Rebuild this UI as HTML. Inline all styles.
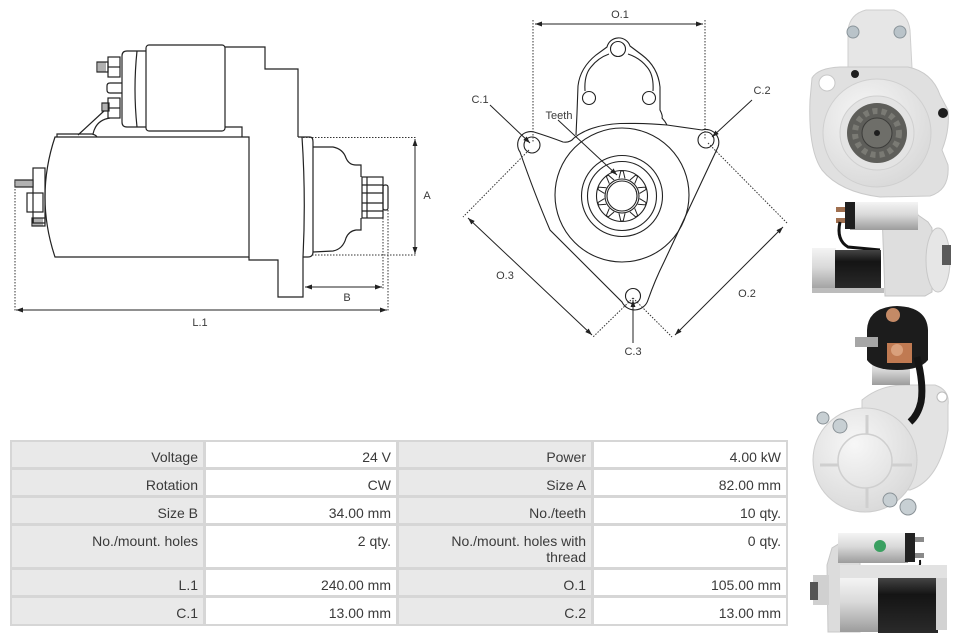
<!DOCTYPE html>
<html><head><meta charset="utf-8">
<style>
html,body{margin:0;padding:0;background:#fff;}
body{width:960px;height:636px;position:relative;overflow:hidden;font-family:"Liberation Sans",sans-serif;}
svg{position:absolute;left:0;top:0;}
.tb{position:absolute;left:10px;top:440px;width:778px;height:186px;background:#d6d6d6;}
.c{position:absolute;box-sizing:border-box;text-align:right;font:14px/16px "Liberation Sans",sans-serif;color:#3a3a3a;padding:7px 5px 0 0;white-space:nowrap;}
.l{background:#e9e9e9;}
.v{background:#fff;}
.k1{left:2px;width:191px;}
.k2{left:196px;width:190px;}
.k3{left:389px;width:192px;}
.k4{left:584px;width:192px;}
.r1{top:2px;height:25px;}
.r2{top:30px;height:25px;}
.r3{top:58px;height:25px;}
.r4{top:86px;height:41px;}
.r5{top:130px;height:25px;}
.r6{top:158px;height:26px;}
</style></head>
<body>
<svg width="960" height="636" viewBox="0 0 960 636" xmlns="http://www.w3.org/2000/svg">
<defs>
<marker id="ah" viewBox="0 0 10 10" refX="10" refY="5" markerWidth="7" markerHeight="7" orient="auto-start-reverse">
<path d="M0,1.5 L10,5 L0,8.5 z" fill="#222"/></marker>
<linearGradient id="cyl" x1="0" y1="0" x2="0" y2="1">
<stop offset="0" stop-color="#f4f4f4"/><stop offset=".45" stop-color="#d9d9d9"/><stop offset="1" stop-color="#9c9c9c"/></linearGradient>
<linearGradient id="blk" x1="0" y1="0" x2="0" y2="1">
<stop offset="0" stop-color="#444"/><stop offset=".3" stop-color="#141414"/><stop offset="1" stop-color="#2a2a2a"/></linearGradient>
<radialGradient id="disc" cx=".4" cy=".35" r=".75">
<stop offset="0" stop-color="#f7f7f7"/><stop offset="1" stop-color="#d6d6d6"/></radialGradient>
</defs>

<!-- ============ LEFT SIDE VIEW DRAWING ============ -->
<g fill="none" stroke="#222" stroke-width="1.2">
<path d="M55,137 L249,137 L249,257 L55,257 Q35,197 55,137 Z"/>
<path d="M57,137 L57,134 L92,134 Q96,135 97,137"/>
<rect x="146" y="45" width="79" height="86" rx="3"/>
<path d="M146,51 L127,51 Q122,51 122,56 L122,122 Q122,127 127,127 L146,127"/>
<path d="M137,51 Q133,89 137,127"/>
<path d="M225,127 L242,127 L242,137"/>
<path d="M225,47 L265,47 L265,69 L298,69 L298,137"/>
<path d="M298,137 L310,137 Q313,137 313,142 L313,252 Q313,257 308,257 L303,257"/>
<path d="M302,137 Q306,197 303,257"/>
<path d="M249,257 L249,260 L278,260 L278,297 L303,297 L303,257"/>
<path d="M313,147 L333,147 Q343,149 346,158 Q349,165 356,165 L361,165 L361,177"/>
<path d="M361,218 L361,230 L356,230 Q349,231 346,238 Q343,249 333,251 L313,252"/>
<rect x="362" y="177" width="21" height="41"/>
<path d="M362,185 L383,185 M362,193 L383,193 M362,203 L383,203 M362,211 L383,211 M367,177 L367,218"/>
<rect x="383" y="185" width="5" height="25" rx="2"/>
<!-- left terminals -->
<rect x="33" y="168" width="12" height="55"/>
<rect x="27" y="193" width="16" height="19"/>
<rect x="15" y="180" width="18" height="7"/>
<path d="M17,180 v7 M19,180 v7 M21,180 v7 M23,180 v7 M25,180 v7 M27,180 v7 M29,180 v7 M31,180 v7" stroke-width=".7"/>
<rect x="32" y="218" width="13" height="8"/>
<path d="M34,218 v8 M36,218 v8 M38,218 v8 M40,218 v8 M42,218 v8" stroke-width=".7"/>
<!-- solenoid terminals -->
<rect x="97" y="62" width="11" height="10"/>
<path d="M99,62 v10 M101,62 v10 M103,62 v10 M105,62 v10" stroke-width=".7"/>
<rect x="108" y="57" width="12" height="20"/>
<path d="M108,67 L120,67"/>
<path d="M122,83 L110,83 Q107,83 107,86 L107,90 Q107,93 110,93 L122,93"/>
<rect x="102" y="103" width="7" height="8"/>
<path d="M104,103 v8 M106,103 v8" stroke-width=".7"/>
<rect x="108" y="98" width="12" height="20"/>
<path d="M108,108 L120,108"/>
<path d="M104,111 L78,135"/>
<path d="M110,118 Q96,120 93,134"/>
</g>
<!-- dimension lines left -->
<g fill="none" stroke="#333" stroke-width="1" stroke-dasharray="1.5 1.5">
<path d="M303,137.5 L417,137.5"/>
<path d="M312,255 L417,255"/>
<path d="M383,218 L383,289"/>
<path d="M15,180 L15,312"/>
<path d="M388,210 L388,312"/>
</g>
<g fill="none" stroke="#222" stroke-width="1">
<path d="M415,139 L415,254" marker-start="url(#ah)" marker-end="url(#ah)"/>
<path d="M305,287 L382,287" marker-start="url(#ah)" marker-end="url(#ah)"/>
<path d="M16,310 L387,310" marker-start="url(#ah)" marker-end="url(#ah)"/>
</g>
<g font-family="Liberation Sans, sans-serif" font-size="11" fill="#3a3a3a" text-anchor="middle">
<text x="427" y="199">A</text>
<text x="347" y="301">B</text>
<text x="200" y="326">L.1</text>
</g>

<!-- ============ MIDDLE FRONT VIEW DRAWING ============ -->
<g fill="none" stroke="#222" stroke-width="1.1">
<path d="M520,152 A13,13 0 0 1 534,132 Q550,137 563,142 Q570,143 574,138 Q590,125 620,123.5 Q645,123 667,125 L702,130 A13,13 0 0 1 718,147 L664,262 Q655,280 648,300 A14,14 0 0 1 622,302 L550,230 Q535,195 520,152 Z"/>
<path d="M576,135 L577,113 L578,86 Q580,68 596,55 L607,47 A12,12 0 0 1 630,46 L642,55 Q658,67 660,87 L660,110 Q663,116 662,118 Q665,121 667,125"/>
<path d="M585,91 Q584,75 591,67 Q598,58 609,54"/>
<path d="M628,54 Q640,58 647,67 Q654,75 653,91"/>
<circle cx="618" cy="49" r="7.5"/>
<circle cx="589" cy="98" r="6.5"/>
<circle cx="649" cy="98" r="6.5"/>
<circle cx="532" cy="145" r="8"/>
<circle cx="706" cy="140" r="8"/>
<circle cx="633" cy="296" r="7.5"/>
<circle cx="622" cy="195" r="67"/>
<circle cx="622" cy="196" r="40.5"/>
<circle cx="622" cy="196" r="34.5"/>
<circle cx="622" cy="196" r="25.5"/>
<circle cx="622" cy="196" r="17"/>
<circle cx="622" cy="196" r="15"/>
<g transform="translate(622,196)" stroke-width="1">
<path id="tooth" d="M-3,-17.5 L-1.2,-25 L1.2,-25 L3,-17.5"/>
<use href="#tooth" transform="rotate(36)"/>
<use href="#tooth" transform="rotate(72)"/>
<use href="#tooth" transform="rotate(108)"/>
<use href="#tooth" transform="rotate(144)"/>
<use href="#tooth" transform="rotate(180)"/>
<use href="#tooth" transform="rotate(216)"/>
<use href="#tooth" transform="rotate(252)"/>
<use href="#tooth" transform="rotate(288)"/>
<use href="#tooth" transform="rotate(324)"/>
</g>
</g>
<g fill="none" stroke="#333" stroke-width="1" stroke-dasharray="1.5 1.5">
<path d="M533,20 L533,143"/>
<path d="M705,20 L705,140"/>
<path d="M529,150 L463,217"/>
<path d="M633,298 L593,337"/>
<path d="M708,143 L787,223"/>
<path d="M633,298 L672,337"/>
</g>
<g fill="none" stroke="#222" stroke-width="1">
<path d="M535,24 L703,24" marker-start="url(#ah)" marker-end="url(#ah)"/>
<path d="M468,218 L592,335" marker-start="url(#ah)" marker-end="url(#ah)"/>
<path d="M783,227 L675,335" marker-start="url(#ah)" marker-end="url(#ah)"/>
<path d="M558,120 L617,175" marker-end="url(#ah)"/>
<path d="M490,105 L530,143" marker-end="url(#ah)"/>
<path d="M752,100 L712,137" marker-end="url(#ah)"/>
<path d="M633,343 L633,300" marker-end="url(#ah)"/>
</g>
<g font-family="Liberation Sans, sans-serif" font-size="11" fill="#3a3a3a" text-anchor="middle">
<text x="620" y="18">O.1</text>
<text x="559" y="119">Teeth</text>
<text x="480" y="103">C.1</text>
<text x="762" y="94">C.2</text>
<text x="633" y="355">C.3</text>
<text x="505" y="279">O.3</text>
<text x="747" y="297">O.2</text>
</g>

<!-- ============ PHOTOS (approximated) ============ -->
<!-- photo 1 -->
<path d="M848,68 L848,30 Q850,14 866,10 L894,10 Q908,14 910,30 L912,68 Z" fill="#e6e6e6" stroke="#cfcfcf"/>
<circle cx="853" cy="32" r="6" fill="#b9c3c9" stroke="#8a949a"/>
<circle cx="900" cy="32" r="6" fill="#b9c3c9" stroke="#8a949a"/>
<path d="M812,78 Q818,68 840,67 L908,67 Q932,72 940,95 L948,110 Q950,130 942,150 L948,165 Q950,190 930,196 L880,197 Q840,192 822,170 Q808,150 810,100 Z" fill="#e0e0e0" stroke="#cacaca"/>
<circle cx="827" cy="83" r="8" fill="#fff" stroke="#c8c8c8"/>
<circle cx="877" cy="133" r="54" fill="url(#disc)" stroke="#cfcfcf"/>
<circle cx="877" cy="133" r="37" fill="#e3e3e3" stroke="#d0d0d0"/>
<circle cx="877" cy="133" r="30" fill="#5e5e5a"/>
<circle cx="877" cy="133" r="22" fill="none" stroke="#7a7a74" stroke-width="6" stroke-dasharray="5 4"/>
<circle cx="877" cy="133" r="15" fill="#6e6e69" stroke="#3c3c3a"/>
<circle cx="877" cy="133" r="3" fill="#1e1e1e"/>
<circle cx="855" cy="74" r="4" fill="#1e1e1e"/>
<circle cx="943" cy="113" r="5" fill="#1e1e1e"/>

<!-- photo 2 -->
<path d="M882,212 L900,205 L915,205 L918,215 L928,222 L932,228 L932,292 L925,296 L885,296 Z" fill="#dedede" stroke="#c4c4c4"/>
<ellipse cx="938" cy="260" rx="12" ry="32" fill="#e6e6e6" stroke="#c8c8c8"/>
<rect x="942" y="245" width="9" height="20" fill="#5a5a5a"/>
<rect x="850" y="202" width="68" height="28" fill="url(#cyl)"/>
<rect x="845" y="202" width="10" height="27" fill="#1e1e1e"/>
<rect x="836" y="207" width="9" height="5" fill="#a07050"/>
<rect x="836" y="218" width="9" height="5" fill="#a07050"/>
<path d="M840,222 Q836,240 848,247 L880,250" stroke="#111" stroke-width="3" fill="none"/>
<rect x="812" y="248" width="24" height="43" fill="url(#cyl)"/>
<rect x="835" y="250" width="46" height="39" fill="url(#blk)"/>
<rect x="812" y="288" width="72" height="5" fill="#bcbcbc"/>

<!-- photo 3 -->
<path d="M862,487 L862,400 Q880,385 905,385 L935,385 Q950,390 948,405 L948,430 Q940,480 910,490 Z" fill="#e3e3e3" stroke="#cccccc"/>
<circle cx="942" cy="397" r="5" fill="#fff" stroke="#bbb"/>
<rect x="872" y="357" width="38" height="28" fill="url(#cyl)"/>
<path d="M867,330 Q868,307 897,306 Q927,307 928,330 L928,360 Q920,370 897,370 Q874,370 867,360 Z" fill="#1c1c1c"/>
<circle cx="893" cy="315" r="7" fill="#c48a66"/>
<rect x="887" y="343" width="25" height="20" fill="#c07a52"/>
<circle cx="897" cy="350" r="6" fill="#d9a07c"/>
<rect x="855" y="337" width="23" height="10" fill="#a6a6a6"/>
<path d="M917,357 Q924,385 921,402 Q918,415 910,422" stroke="#151515" stroke-width="7" fill="none"/>
<circle cx="865" cy="460" r="52" fill="url(#disc)" stroke="#cdcdcd"/>
<circle cx="865" cy="461" r="27" fill="none" stroke="#cfcfcf" stroke-width="1.5"/>
<path d="M867,415 L867,434 M867,488 L867,508 M820,465 L838,465 M892,465 L912,465" stroke="#cfcfcf" stroke-width="3" fill="none"/>
<circle cx="823" cy="418" r="6" fill="#c7cfd3" stroke="#8a9297"/>
<circle cx="840" cy="426" r="7" fill="#c7cfd3" stroke="#8a9297"/>
<circle cx="890" cy="500" r="7" fill="#c7cfd3" stroke="#8a9297"/>
<circle cx="908" cy="507" r="8" fill="#c7cfd3" stroke="#8a9297"/>

<!-- photo 4 -->
<path d="M827,565 L832,548 L845,540 L860,540 L860,632 L828,632 Z" fill="#dcdcdc" stroke="#c8c8c8"/>
<rect x="838" y="533" width="70" height="30" fill="url(#cyl)"/>
<rect x="905" y="533" width="10" height="29" fill="#222"/>
<circle cx="880" cy="546" r="6" fill="#3aa061"/>
<rect x="915" y="537" width="9" height="5" fill="#8a8a8a"/>
<rect x="915" y="553" width="9" height="5" fill="#8a8a8a"/>
<path d="M920,560 Q922,575 900,578" stroke="#111" stroke-width="2" fill="none"/>
<rect x="840" y="565" width="107" height="14" fill="#e2e2e2"/>
<rect x="840" y="578" width="40" height="54" fill="url(#cyl)"/>
<rect x="878" y="578" width="60" height="55" fill="url(#blk)"/>
<rect x="936" y="578" width="11" height="52" fill="#d2d2d2"/>
<rect x="813" y="575" width="16" height="30" fill="#d0d0d0"/>
<rect x="810" y="582" width="8" height="18" fill="#555"/>
</svg>

<div class="tb">
<div class="c l k1 r1">Voltage</div><div class="c v k2 r1">24 V</div><div class="c l k3 r1">Power</div><div class="c v k4 r1">4.00 kW</div>
<div class="c l k1 r2">Rotation</div><div class="c v k2 r2">CW</div><div class="c l k3 r2">Size A</div><div class="c v k4 r2">82.00 mm</div>
<div class="c l k1 r3">Size B</div><div class="c v k2 r3">34.00 mm</div><div class="c l k3 r3">No./teeth</div><div class="c v k4 r3">10 qty.</div>
<div class="c l k1 r4">No./mount. holes</div><div class="c v k2 r4">2 qty.</div><div class="c l k3 r4">No./mount. holes with<br>thread</div><div class="c v k4 r4">0 qty.</div>
<div class="c l k1 r5">L.1</div><div class="c v k2 r5">240.00 mm</div><div class="c l k3 r5">O.1</div><div class="c v k4 r5">105.00 mm</div>
<div class="c l k1 r6">C.1</div><div class="c v k2 r6">13.00 mm</div><div class="c l k3 r6">C.2</div><div class="c v k4 r6">13.00 mm</div>
</div>
</body></html>
